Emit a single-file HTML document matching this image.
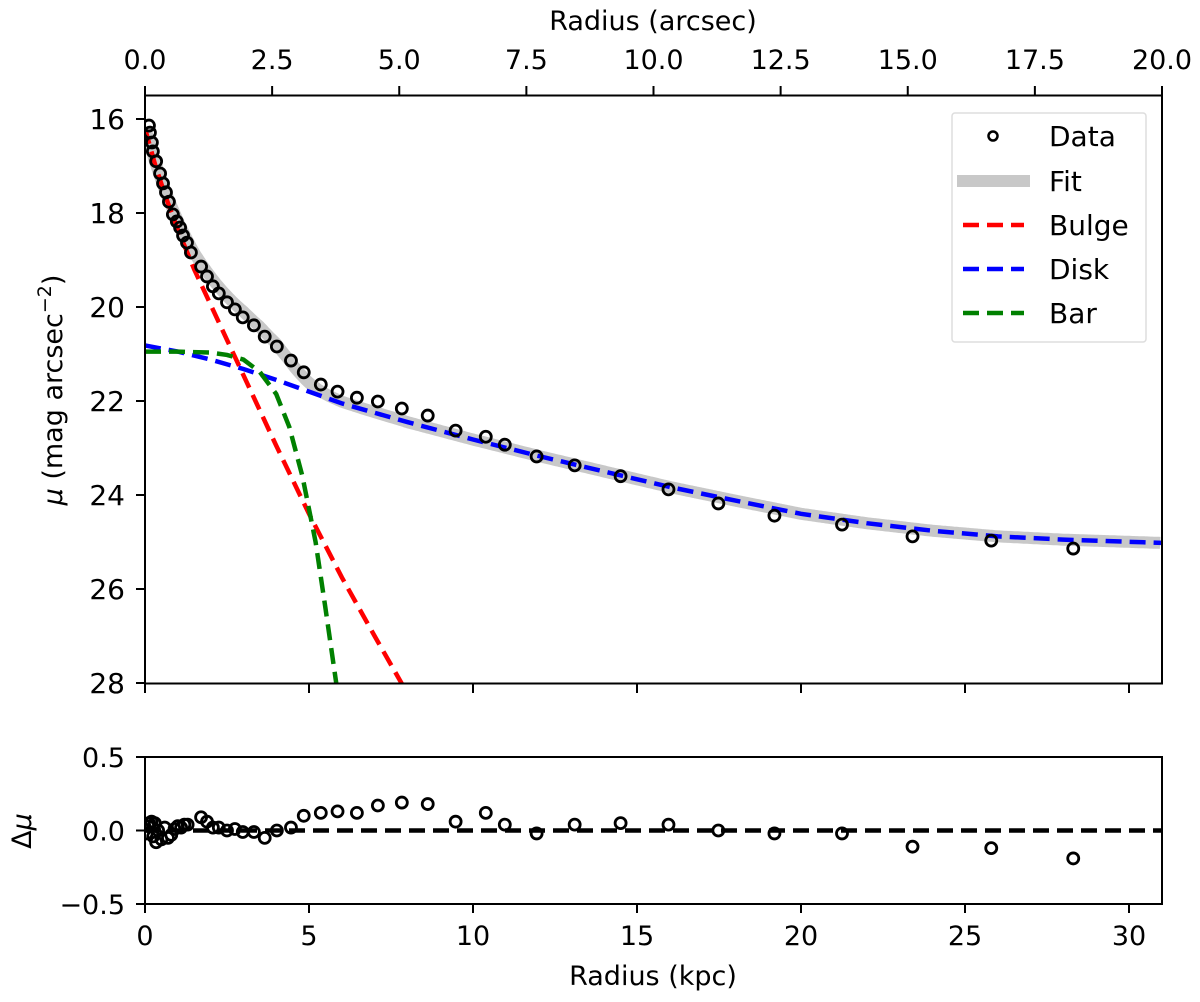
<!DOCTYPE html>
<html><head><meta charset="utf-8">
<style>
html,body{margin:0;padding:0;background:#fff;}
svg{display:block;font-family:"DejaVu Sans","Liberation Sans",sans-serif;}
</style></head>
<body>
<svg id="chart" width="1200" height="1002" viewBox="0 0 1200 1002" xmlns="http://www.w3.org/2000/svg">
<defs>
<clipPath id="clipMain"><rect x="145" y="95.5" width="1017" height="588"/></clipPath>
<clipPath id="clipRes"><rect x="145" y="757" width="1017" height="147"/></clipPath>
</defs>
<g id="main"></g>
<g id="res"></g>
<text x="653" y="30" font-size="27" text-anchor="middle">Radius (arcsec)</text>
<text x="653" y="985" font-size="27" text-anchor="middle">Radius (kpc)</text>
<text transform="translate(62,390) rotate(-90)" font-size="27" text-anchor="middle"><tspan font-style="italic">μ</tspan> (mag arcsec<tspan baseline-shift="super" font-size="19">−2</tspan>)</text>
<text transform="translate(31,831) rotate(-90)" font-size="27" text-anchor="middle">Δ<tspan font-style="italic">μ</tspan></text>
<g>
<rect x="952" y="113" width="194" height="229" rx="3" fill="#fff" stroke="#ddd" stroke-width="1.5"/>
<g><circle cx="993" cy="136" r="4.5" fill="none" stroke="#000" stroke-width="2.5"/><text x="1049" y="146" font-size="28">Data</text></g>
<g><line x1="957" y1="181" x2="1030" y2="181" stroke="#c8c8c8" stroke-width="12"/><text x="1049" y="191" font-size="28">Fit</text></g>
<g><line x1="963" y1="225" x2="1024" y2="225" stroke="#ff0000" stroke-width="4.5" stroke-dasharray="16 8"/><text x="1049" y="235" font-size="28">Bulge</text></g>
<g><line x1="963" y1="269" x2="1024" y2="269" stroke="#0000ff" stroke-width="4.5" stroke-dasharray="16 8"/><text x="1049" y="279" font-size="28">Disk</text></g>
<g><line x1="963" y1="313" x2="1024" y2="313" stroke="#008000" stroke-width="4.5" stroke-dasharray="16 8"/><text x="1049" y="323" font-size="28">Bar</text></g>
</g>
</svg>
<script>
// Data (kpc, mag/arcsec^2)
const dataR = [0.12,0.15,0.21,0.24,0.34,0.46,0.55,0.64,0.73,0.85,0.97,1.07,1.16,1.28,1.40,1.71,1.89,2.07,2.25,2.50,2.74,2.98,3.32,3.65,4.02,4.45,4.84,5.36,5.87,6.46,7.10,7.83,8.62,9.47,10.39,10.97,11.94,13.1,14.5,15.96,17.48,19.19,21.25,23.4,25.8,28.3];
const dataMu = [16.14,16.29,16.5,16.69,16.9,17.16,17.37,17.56,17.76,18.03,18.18,18.31,18.48,18.63,18.84,19.14,19.35,19.56,19.71,19.9,20.05,20.22,20.39,20.63,20.84,21.14,21.39,21.65,21.8,21.93,22.01,22.16,22.31,22.63,22.76,22.93,23.18,23.37,23.6,23.88,24.18,24.44,24.63,24.88,24.97,25.14];
const residR = [0.05,0.1,0.12,0.2,0.25,0.3,0.34,0.4,0.5,0.6,0.7,0.8,0.9,1.0,1.1,1.2,1.3,1.71,1.89,2.07,2.25,2.5,2.74,2.98,3.32,3.65,4.02,4.45,4.84,5.36,5.87,6.46,7.10,7.83,8.62,9.47,10.39,10.97,11.94,13.1,14.5,15.96,17.48,19.19,21.25,23.4,25.8,28.3];
const residVal = [-0.02,0.03,0.05,0.06,-0.04,0.05,-0.08,0.0,-0.06,0.02,-0.05,-0.03,0.01,0.03,0.02,0.04,0.04,0.09,0.06,0.02,0.02,0.0,0.01,-0.01,-0.01,-0.05,0.0,0.02,0.1,0.12,0.13,0.12,0.17,0.19,0.18,0.06,0.12,0.04,-0.02,0.04,0.05,0.04,0.0,-0.02,-0.02,-0.11,-0.12,-0.19];
// Model components
const bulgeR = [0,0.3,0.6,1.0,1.5,2.0,2.5,3.0,4.0,5.0,6.0,7.0,7.9];
const bulgeMu = [16.2,16.95,17.6,18.35,19.2,19.95,20.7,21.45,22.95,24.4,25.75,27.0,28.1];
const diskR = [0,1,2,3,4,5,6,8,10,12,14,16,18,20,22,24,26,28,31];
const diskMu = [20.82,20.95,21.12,21.32,21.55,21.8,22.05,22.45,22.82,23.17,23.5,23.83,24.12,24.4,24.6,24.76,24.88,24.95,25.02];
const barR = [0,1,2,2.5,3,3.5,4,4.4,4.8,5.2,5.5,5.85];
const barMu = [20.95,20.95,20.97,21.02,21.12,21.38,21.85,22.55,23.6,25.0,26.4,28.1];
const xTicks = [0,5,10,15,20,25,30];
const arcTicks = [0,2.5,5,7.5,10,12.5,15,17.5,20];
const yTicks = [16,18,20,22,24,26,28];
const resTicks = [0.5,0,-0.5];

const NS='http://www.w3.org/2000/svg';
const X0=145,X1=1162;
const xs = r => X0 + r*(1129-145)/30;
const xa = a => X0 + a*(X1-X0)/20;
const ys = m => 95.5 + (m-15.5)*47;
const yr = v => 830.5 - v*147;
function mk(tag, attrs, parent){const e=document.createElementNS(NS,tag);for(const k in attrs)e.setAttribute(k,attrs[k]);parent.appendChild(e);return e;}
function interp(R,M,r){if(r<R[0]||r>R[R.length-1])return null;for(let i=1;i<R.length;i++){if(r<=R[i]){const t=(r-R[i-1])/(R[i]-R[i-1]);return M[i-1]+t*(M[i]-M[i-1]);}}return M[M.length-1];}
function pathOf(R,M,fx,fy){return R.map((r,i)=>(i?'L':'M')+fx(r).toFixed(1)+','+fy(M[i]).toFixed(1)).join(' ');}

const main=document.getElementById('main');
const res=document.getElementById('res');

const fitR=[],fitMu=[];
for(let r=0;r<=31.01;r+=0.05){let f=0;[[bulgeR,bulgeMu],[diskR,diskMu],[barR,barMu]].forEach(([R,M])=>{const m=interp(R,M,r);if(m!==null)f+=Math.pow(10,-0.4*m);});fitR.push(r);fitMu.push(-2.5*Math.log10(f));}
const gm=mk('g',{'clip-path':'url(#clipMain)'},main);
let e=mk('path',{d:pathOf(fitR,fitMu,xs,ys),fill:'none',stroke:'#c8c8c8','stroke-width':12,'stroke-linejoin':'round'},gm);


e=mk('path',{d:pathOf(bulgeR,bulgeMu,xs,ys),fill:'none',stroke:'#ff0000','stroke-width':4.5,'stroke-dasharray':'16 8'},gm);


e=mk('path',{d:pathOf(diskR,diskMu,xs,ys),fill:'none',stroke:'#0000ff','stroke-width':4.5,'stroke-dasharray':'16 8'},gm);


e=mk('path',{d:pathOf(barR,barMu,xs,ys),fill:'none',stroke:'#008000','stroke-width':4.5,'stroke-dasharray':'16 8'},gm);


dataR.forEach((r,i)=>{const c=mk('circle',{cx:xs(r),cy:ys(dataMu[i]),r:5.5,fill:'none',stroke:'#000','stroke-width':2.8},gm);

});
e=mk('rect',{x:X0,y:95.5,width:X1-X0,height:588,fill:'none',stroke:'#000','stroke-width':2},main);


yTicks.forEach(t=>{const y=ys(t);mk('line',{x1:X0-9,x2:X0,y1:y,y2:y,stroke:'#000','stroke-width':2},main);
const tx=mk('text',{x:X0-20,y:y+10,'font-size':28,'text-anchor':'end'},main);tx.textContent=t;

});
xTicks.forEach(t=>{const x=xs(t);mk('line',{x1:x,x2:x,y1:683.5,y2:693,stroke:'#000','stroke-width':2},main);});
arcTicks.forEach(t=>{const x=xa(t);mk('line',{x1:x,x2:x,y1:86,y2:95.5,stroke:'#000','stroke-width':2},main);
const tx=mk('text',{x:x,y:69,'font-size':27,'text-anchor':'middle'},main);tx.textContent=t.toFixed(1);

});

const gr=mk('g',{'clip-path':'url(#clipRes)'},res);
e=mk('line',{x1:X0,x2:X1,y1:yr(0),y2:yr(0),stroke:'#000','stroke-width':4.5,'stroke-dasharray':'16 8'},gr);


residR.forEach((r,i)=>{const c=mk('circle',{cx:xs(r),cy:yr(residVal[i]),r:5.5,fill:'none',stroke:'#000','stroke-width':2.8},gr);

});
e=mk('rect',{x:X0,y:757,width:X1-X0,height:147,fill:'none',stroke:'#000','stroke-width':2},res);


resTicks.forEach(t=>{const y=yr(t);mk('line',{x1:X0-9,x2:X0,y1:y,y2:y,stroke:'#000','stroke-width':2},res);
const tx=mk('text',{x:X0-20,y:y+10,'font-size':27,'text-anchor':'end'},res);tx.textContent=(t<0?'−':'')+Math.abs(t).toFixed(1);

});
xTicks.forEach(t=>{const x=xs(t);mk('line',{x1:x,x2:x,y1:904,y2:913,stroke:'#000','stroke-width':2},res);
const tx=mk('text',{x:x,y:945,'font-size':27,'text-anchor':'middle'},res);tx.textContent=t;

});
</script>
</body></html>
